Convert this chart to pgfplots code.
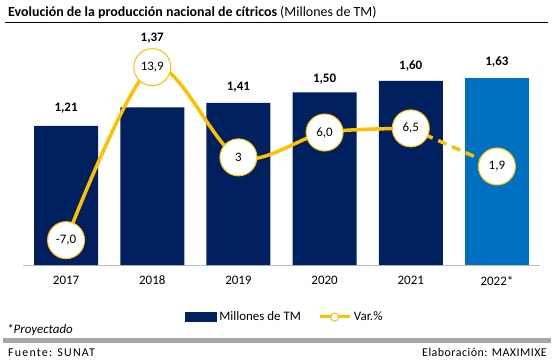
\documentclass[border=0pt]{standalone}
\usepackage{pgfplots}
\pgfplotsset{compat=1.18}
\usepackage{pgfplotstable}
\usepackage{fontspec}
\setmainfont{Carlito}
\newfontfamily\spacedA[LetterSpace=10]{Carlito}
\newfontfamily\spacedB[LetterSpace=4]{Carlito}
\definecolor{navy}{HTML}{002060}
\definecolor{proj}{HTML}{0070C0}
\definecolor{gold}{HTML}{FFC000}
\definecolor{rulegray}{HTML}{A6A6A6}
\definecolor{axgray}{HTML}{BFBFBF}

\pgfplotstableread{
x val dy
0 1.21 18
1 1.37 69
2 1.41 16
3 1.50 13
4 1.60 15
}\bars
\pgfplotstableread{
x val dy
5 1.63 16
}\barsproj
\pgfplotstableread{
x y lab
0 -7 -7,0
1 13.9 13,9
2 3 3
3 6 6,0
4 6.5 6,5
5 1.9 1,9
}\var

\begin{document}
\begin{tikzpicture}[x=1bp,y=1bp]
\path[use as bounding box] (0,0) rectangle (555,360);
\node[anchor=base west, inner sep=0pt, font=\fontsize{14}{16}\selectfont] at (8,343.3) {\textbf{Evolución de la producción nacional de cítricos} (Millones de TM)};
\draw[line width=1.2bp] (5,337.7) -- (548,337.7);

\begin{axis}[
  at={(23bp,95bp)}, anchor=south west, scale only axis,
  width=517bp, height=230bp,
  xmin=-0.5, xmax=5.5, ymin=0, ymax=2,
  axis y line=none, axis x line*=bottom,
  x axis line style={draw=axgray, line width=1bp, -},
  xtick={0,...,5}, xticklabels={2017,2018,2019,2020,2021,2022*},
  major tick length=0pt,
  xticklabel style={anchor=center, yshift=-15.5bp, font=\fontsize{13}{15}\selectfont, text=black},
  clip=false,
  legend columns=2,
  legend style={at={(0.504,-0.226)}, anchor=center, draw=none, fill=none,
    font=\fontsize{13}{15}\selectfont, inner sep=0pt, nodes={inner sep=0pt},
    /tikz/every odd column/.append style={column sep=2.7bp},
    /tikz/every even column/.append style={column sep=17.3bp}},
]
\addplot[ybar, bar width=64bp, bar shift=0pt, fill=navy, draw=none,
  visualization depends on={\thisrow{dy} \as \dy},
  nodes near coords={\pgfmathprintnumber[fixed, fixed zerofill, precision=2, use comma, assume math mode=true]{\pgfplotspointmeta}},
  every node near coord/.append style={anchor=center, yshift=\dy bp, font=\bfseries\fontsize{13}{15}\selectfont, text=black},
  legend image code/.code={\fill[navy] (0bp,-5.2bp) rectangle (32bp,5.2bp);}
] table[x=x, y=val] {\bars};
\addlegendentry{Millones de TM}
\addplot[ybar, bar width=64bp, bar shift=0pt, fill=proj, draw=none, forget plot,
  visualization depends on={\thisrow{dy} \as \dy},
  nodes near coords={\pgfmathprintnumber[fixed, fixed zerofill, precision=2, use comma, assume math mode=true]{\pgfplotspointmeta}},
  every node near coord/.append style={anchor=center, yshift=\dy bp, font=\bfseries\fontsize{13}{15}\selectfont, text=black}
] table[x=x, y=val] {\barsproj};
\addlegendimage{legend image code/.code={\draw[gold, line width=3bp] (0bp,0bp) -- (30bp,0bp); \draw[gold, fill=white, line width=1bp] (15bp,0bp) circle (4bp);}}
\addlegendentry{Var.\%}
\end{axis}

\begin{axis}[
  at={(23bp,95bp)}, anchor=south west, scale only axis,
  width=517bp, height=230bp,
  xmin=-0.5, xmax=5.5, ymin=-10, ymax=17.7778,
  hide axis, clip=false,
]
\addplot[gold, line width=3.5bp, smooth] coordinates {(0,-7) (1,13.9) (2,3) (3,6) (4,6.5)};
\addplot[gold, line width=3.5bp, dash pattern=on 9bp off 6bp] coordinates {(4,6.5) (5,1.9)};
\addplot[only marks, mark=*, mark size=18.5bp, mark options={fill=white, draw=gold, line width=1bp},
  point meta=explicit symbolic, nodes near coords,
  every node near coord/.append style={anchor=center, font=\fontsize{13}{15}\selectfont, text=black}
] table[x=x, y=y, meta=lab] {\var};
\end{axis}

\node[anchor=base west, inner sep=0pt, font=\itshape\fontsize{13}{15}\selectfont] at (7,27) {*Proyectado};
\draw[rulegray, line width=4.4bp] (3,19.5) -- (551,19.5);
\node[anchor=base west, inner sep=0pt, font=\spacedA\fontsize{12}{14}\selectfont] at (8,4) {Fuente: SUNAT};
\node[anchor=base east, inner sep=0pt, font=\spacedB\fontsize{12}{14}\selectfont] at (547,4) {Elaboración: MAXIMIXE};
\end{tikzpicture}
\end{document}
